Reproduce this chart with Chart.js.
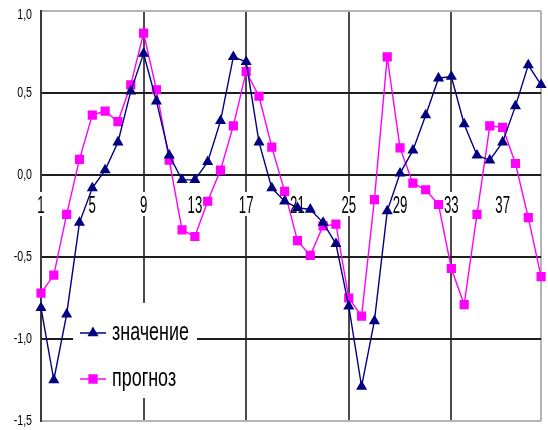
<!DOCTYPE html>
<html>
<head>
<meta charset="utf-8">
<script src="https://cdn.jsdelivr.net/npm/chart.js@4/dist/chart.umd.min.js"></script>
<style>
  html, body { margin: 0; padding: 0; background: #ffffff; }
  canvas { display: block; }
</style>
</head>
<body>
<canvas id="chart" width="548" height="430"></canvas>
<script>
// Series and axis data
const categories = Array.from({ length: 40 }, (_, i) => String(i + 1));

const znachenie = [
  -0.81, -1.25, -0.85, -0.29, -0.08, 0.03, 0.20, 0.51, 0.74, 0.45,
   0.12, -0.03, -0.03, 0.08, 0.33, 0.72, 0.69, 0.20, -0.08, -0.16,
  -0.20, -0.21, -0.29, -0.42, -0.80, -1.29, -0.89, -0.22, 0.01, 0.15,
   0.365, 0.59, 0.60, 0.31, 0.12, 0.09, 0.20, 0.42, 0.67, 0.55
];

const prognoz = [
  -0.72, -0.61, -0.24, 0.095, 0.365, 0.39, 0.325, 0.55, 0.865, 0.52,
   0.09, -0.335, -0.375, -0.16, 0.03, 0.30, 0.63, 0.48, 0.17, -0.10,
  -0.40, -0.49, -0.31, -0.30, -0.75, -0.86, -0.15, 0.72, 0.165, -0.05,
  -0.09, -0.18, -0.57, -0.79, -0.24, 0.30, 0.29, 0.07, -0.26, -0.62
];

const seriesNames = ['значение', 'прогноз'];
const yTicks = [1.0, 0.5, 0.0, -0.5, -1.0, -1.5];
const xLabelEvery = 4;   // category labels shown on every 4th point
const xGridEvery = 8;    // vertical grid line on every 8th point

const FONT = '"Liberation Sans", Arial, sans-serif';
const formatY = v => v.toFixed(1).replace('.', ',');

// Draws condensed text (narrow, tall glyphs)
function squeezedText(ctx, text, x, y, sx, align) {
  ctx.save();
  ctx.translate(x, y);
  ctx.scale(sx, 1);
  ctx.textAlign = align;
  ctx.fillText(text, 0, 0);
  ctx.restore();
}

const axisLabels = {
  id: 'axisLabels',
  beforeDatasetsDraw(chart) {
    const { ctx, chartArea, scales: { x, y } } = chart;
    ctx.save();
    ctx.fillStyle = '#000';
    ctx.textBaseline = 'middle';
    // value axis labels
    ctx.font = '14px ' + FONT;
    yTicks.forEach(v => {
      const py = Math.max(y.getPixelForValue(v), chartArea.top + 4);
      squeezedText(ctx, formatY(v), 32, py, 0.76, 'right');
    });
    // category labels sit under the zero line
    const zeroY = y.getPixelForValue(0);
    ctx.font = '24px ' + FONT;
    ctx.textBaseline = 'alphabetic';
    categories.forEach((c, i) => {
      if (i % xLabelEvery !== 0) return;
      const px = x.getPixelForValue(i);
      const w = ctx.measureText(c).width * 0.55;
      ctx.fillStyle = '#fff';
      ctx.fillRect(px - w / 2 - 2, zeroY + 17, w + 4, 24);
      ctx.fillStyle = '#000';
      squeezedText(ctx, c, px, zeroY + 38, 0.55, 'center');
    });
    ctx.restore();
  }
};

const insideLegend = {
  id: 'insideLegend',
  afterDatasetsDraw(chart) {
    const { ctx } = chart;
    const box = { x: 73, y: 303, w: 124, h: 95 };
    ctx.save();
    ctx.fillStyle = '#fff';
    ctx.fillRect(box.x, box.y, box.w, box.h);
    const rows = [box.y + 30, box.y + 76];
    chart.data.datasets.forEach((ds, i) => {
      const ly = rows[i];
      ctx.strokeStyle = ds.borderColor;
      ctx.lineWidth = 1.5;
      ctx.beginPath();
      ctx.moveTo(box.x + 7, ly);
      ctx.lineTo(box.x + 33, ly);
      ctx.stroke();
      ctx.fillStyle = ds.pointBackgroundColor;
      ctx.strokeStyle = ds.pointBorderColor;
      Chart.helpers.drawPoint(ctx, {
        pointStyle: ds.pointStyle, radius: ds.pointRadius,
        rotation: 0, borderWidth: 1
      }, box.x + 20, ly);
      ctx.fillStyle = '#000';
      ctx.font = '26px ' + FONT;
      ctx.textBaseline = 'alphabetic';
      squeezedText(ctx, ds.label, box.x + 39, ly + 7, 0.69, 'left');
    });
    ctx.restore();
  }
};

new Chart(document.getElementById('chart'), {
  type: 'line',
  data: {
    labels: categories,
    datasets: [
      {
        label: seriesNames[0],
        data: znachenie,
        borderColor: '#000080',
        backgroundColor: '#000080',
        pointBackgroundColor: '#000080',
        pointBorderColor: '#000080',
        borderWidth: 1.4,
        pointStyle: 'triangle',
        pointRadius: 5,
        tension: 0,
        clip: false
      },
      {
        label: seriesNames[1],
        data: prognoz,
        borderColor: '#ff00ff',
        backgroundColor: '#ff00ff',
        pointBackgroundColor: '#ff00ff',
        pointBorderColor: '#ff00ff',
        borderWidth: 1.4,
        pointStyle: 'rect',
        pointRadius: 5.5,
        tension: 0,
        clip: false
      }
    ]
  },
  options: {
    responsive: false,
    animation: false,
    layout: { padding: { left: 41, top: 11, right: 2, bottom: 9 } },
    plugins: { legend: { display: false }, tooltip: { enabled: false } },
    elements: { point: { borderWidth: 1 } },
    scales: {
      x: {
        type: 'category',
        offset: false,
        ticks: { display: false, autoSkip: false },
        border: { display: false },
        grid: {
          drawTicks: false,
          lineWidth: 2,
          color: c => {
            const i = c.index;
            if (i === categories.length - 1) return '#b4b4b4';
            if (i > 0 && i % xGridEvery === 0) return '#4a4a4a';
            return 'rgba(0,0,0,0)';
          }
        }
      },
      y: {
        min: -1.5,
        max: 1.0,
        ticks: { display: false, stepSize: 0.5 },
        border: { display: true, color: '#3a3a3a', width: 2 },
        grid: {
          drawTicks: false,
          lineWidth: 2,
          color: c => (c.tick.value === 1 || c.tick.value === -1.5) ? '#b4b4b4' : '#1e1e1e'
        }
      }
    }
  },
  plugins: [axisLabels, insideLegend]
});
</script>
</body>
</html>
